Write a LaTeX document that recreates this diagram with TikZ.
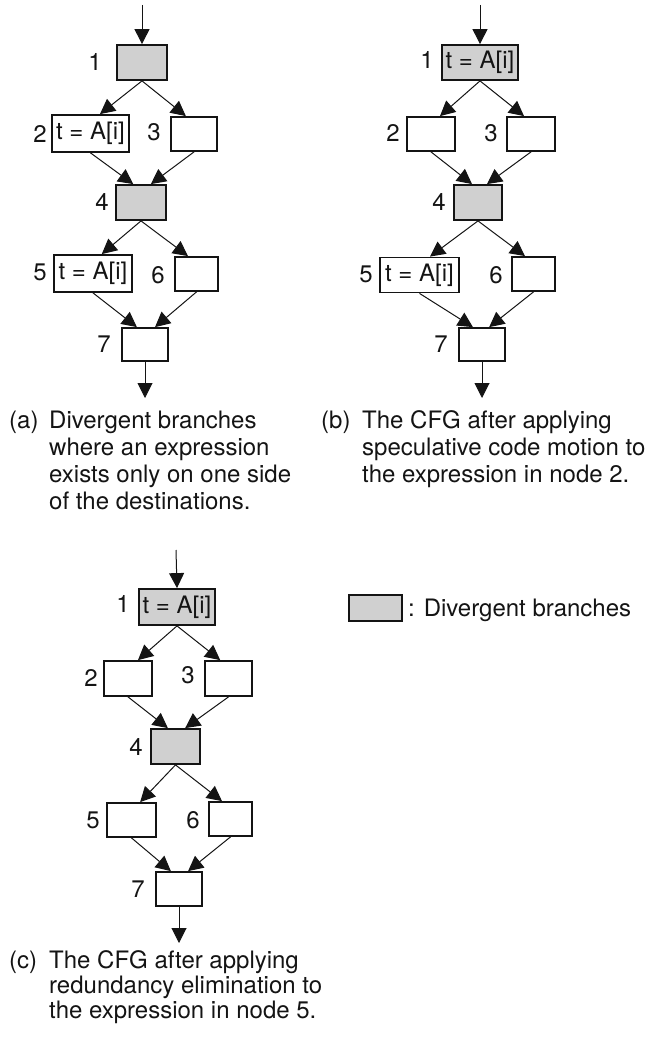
\documentclass[tikz,border=0pt]{standalone}
\usepackage{fontspec}
\setmainfont{TeX Gyre Heros}
\usetikzlibrary{arrows.meta,calc}
\definecolor{cellgray}{RGB}{208,208,208}
\definecolor{ink}{RGB}{20,20,20}
\tikzset{
  every node/.style={font=\fontsize{24}{27}\selectfont, inner sep=0pt, text=ink},
  blk/.style={draw=ink, line width=1.8pt, fill=white, minimum width=#1},
  blk/.default=48pt,
  div/.style={fill=cellgray},
  arr/.style={draw=ink, line width=1pt, -{Triangle[width=15pt,length=15pt]}},
  num/.style={anchor=center},
  captext/.style={anchor=base west},
}
\begin{document}
\begin{tikzpicture}[x=1pt,y=-1pt]
\useasboundingbox (0,0) rectangle (656,1043);

% ---------------- (a) ----------------
\node[blk=50pt, div, minimum height=35pt] (a1) at (142,62.5) {};
\node[blk=77pt, minimum height=37pt] (a2) at (90.5,133.5) {t = A[i]};
\node[blk=46pt, minimum height=34pt] (a3) at (194,134) {};
\node[blk=50pt, div, minimum height=35pt] (a4) at (141,202.5) {};
\node[blk=78pt, minimum height=37pt] (a5) at (93,273.5) {t = A[i]};
\node[blk=43pt, minimum height=34pt] (a6) at (196.5,274) {};
\node[blk=46pt, minimum height=33pt] (a7) at (145,344.5) {};

\node[num] (la1) at (95,62) {1};
\node[num] (la2) at (40,134) {2};
\node[num] (la3) at (154,132) {3};
\node[num] (la4) at (102,202) {4};
\node[num] (la5) at (40,272) {5};
\node[num] (la6) at (158,275) {6};
\node[num] (la7) at (104,344) {7};

\coordinate (ain) at (142,5);
\coordinate (aout) at (145,398);
\draw[arr] (ain) -- (a1.north);
\draw[arr] (a1.south) -- ($(a2.north west)!.62!(a2.north east)$);
\draw[arr] (a1.south) -- ($(a3.north west)!.33!(a3.north east)$);
\draw[arr] (a2.south) -- ($(a4.north west)!.35!(a4.north east)$);
\draw[arr] (a3.south) -- ($(a4.north west)!.69!(a4.north east)$);
\draw[arr] (a4.south) -- ($(a5.north west)!.61!(a5.north east)$);
\draw[arr] (a4.south) -- ($(a6.north west)!.31!(a6.north east)$);
\draw[arr] (a5.south) -- ($(a7.north west)!.33!(a7.north east)$);
\draw[arr] (a6.south) -- ($(a7.north west)!.71!(a7.north east)$);
\draw[arr] (a7.south) -- (aout);

\node[captext] (capa) at (9,428) {(a)};
\node[captext] (capa1) at (49,428) {Divergent branches};
\node[captext] (capa2) at (49,455) {where an expression};
\node[captext] (capa3) at (49,482) {exists only on one side};
\node[captext] (capa4) at (49,509) {of the destinations.};

% ---------------- (b) ----------------
\node[blk=76pt, div, minimum height=35pt] (b1) at (480,62.5) {t = A[i]};
\node[blk=48pt, minimum height=34pt] (b2) at (431,134) {};
\node[blk=48pt, minimum height=34pt] (b3) at (531,134) {};
\node[blk=48pt, div, minimum height=35pt] (b4) at (478,202.5) {};
\node[blk=79pt, minimum height=35pt] (b5) at (419.5,275) {t = A[i]};
\node[blk=43pt, minimum height=34pt] (b6) at (533.5,274) {};
\node[blk=46pt, minimum height=33pt] (b7) at (482,344.5) {};

\node[num] (lb1) at (427,60) {1};
\node[num] (lb2) at (393,133) {2};
\node[num] (lb3) at (491,133) {3};
\node[num] (lb4) at (439,202) {4};
\node[num] (lb5) at (366,274) {5};
\node[num] (lb6) at (496,275) {6};
\node[num] (lb7) at (441,344) {7};

\coordinate (bin) at (480,5);
\coordinate (bout) at (482,398);
\draw[arr] (bin) -- (b1.north);
\draw[arr] (b1.south) -- ($(b2.north west)!.68!(b2.north east)$);
\draw[arr] (b1.south) -- ($(b3.north west)!.36!(b3.north east)$);
\draw[arr] (b2.south) -- ($(b4.north west)!.38!(b4.north east)$);
\draw[arr] (b3.south) -- ($(b4.north west)!.68!(b4.north east)$);
\draw[arr] (b4.south) -- ($(b5.north west)!.63!(b5.north east)$);
\draw[arr] (b4.south) -- ($(b6.north west)!.31!(b6.north east)$);
\draw[arr] (b5.south) -- ($(b7.north west)!.31!(b7.north east)$);
\draw[arr] (b6.south) -- ($(b7.north west)!.65!(b7.north east)$);
\draw[arr] (b7.south) -- (bout);

\node[captext] (capb) at (321,428) {(b)};
\node[captext] (capb1) at (362,428) {The CFG after applying};
\node[captext] (capb2) at (362,455) {speculative code motion to};
\node[captext] (capb3) at (362,482) {the expression in node 2.};

% ---------------- (c) ----------------
\node[blk=76pt, div, minimum height=36pt] (c1) at (177,607) {t = A[i]};
\node[blk=48pt, minimum height=35pt] (c2) at (128,678.5) {};
\node[blk=47pt, minimum height=35pt] (c3) at (228.5,678.5) {};
\node[blk=49pt, div, minimum height=35pt] (c4) at (175.5,746.5) {};
\node[blk=49pt, minimum height=34pt] (c5) at (131.5,820) {};
\node[blk=43pt, minimum height=34pt] (c6) at (230.5,819) {};
\node[blk=46pt, minimum height=34pt] (c7) at (179,889) {};

\node[num] (lc1) at (123,604) {1};
\node[num] (lc2) at (91,678) {2};
\node[num] (lc3) at (188,675) {3};
\node[num] (lc4) at (136,747) {4};
\node[num] (lc5) at (93,820) {5};
\node[num] (lc6) at (193,820) {6};
\node[num] (lc7) at (138,889) {7};

\coordinate (cin) at (176,550);
\coordinate (cout) at (179,943);
\draw[arr] (cin) -- (c1.north);
\draw[arr] (c1.south) -- ($(c2.north west)!.70!(c2.north east)$);
\draw[arr] (c1.south) -- ($(c3.north west)!.33!(c3.north east)$);
\draw[arr] (c2.south) -- ($(c4.north west)!.35!(c4.north east)$);
\draw[arr] (c3.south) -- ($(c4.north west)!.69!(c4.north east)$);
\draw[arr] (c4.south) -- ($(c5.north west)!.67!(c5.north east)$);
\draw[arr] (c4.south) -- ($(c6.north west)!.31!(c6.north east)$);
\draw[arr] (c5.south) -- ($(c7.north west)!.33!(c7.north east)$);
\draw[arr] (c6.south) -- ($(c7.north west)!.69!(c7.north east)$);
\draw[arr] (c7.south) -- (cout);

\node[captext] (capc) at (9,968) {(c)};
\node[captext] (capc1) at (49,968) {The CFG after applying};
\node[captext] (capc2) at (49,993) {redundancy elimination to};
\node[captext] (capc3) at (49,1018) {the expression in node 5.};

% ---------------- legend ----------------
\node[blk=53pt, div, minimum height=26pt] (key) at (375.5,608) {};
\node[anchor=base west] (keytxt) at (408,616) {: Divergent branches};
\end{tikzpicture}
\end{document}
